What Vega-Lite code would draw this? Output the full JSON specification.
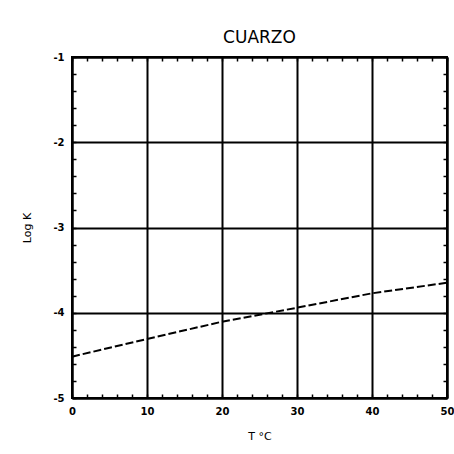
{
  "$schema": "https://vega.github.io/schema/vega-lite/v6.json",
  "width": 375,
  "height": 341,
  "autosize": {"type": "none"},
  "padding": {"left": 72, "top": 57, "right": 7, "bottom": 56},
  "background": "white",
  "title": {"text": "CUARZO", "fontSize": 17, "font": "DejaVu Sans", "fontWeight": "normal", "color": "black", "offset": 5},
  "config": {
    "view": {"stroke": "black", "strokeWidth": 2},
    "axis": {"labelFont": "DejaVu Sans", "titleFont": "DejaVu Sans", "labelColor": "black", "titleColor": "black", "labelFontWeight": "bold", "labelFontSize": 10, "titleFontWeight": "normal", "titleFontSize": 11}
  },
  "data": {"values": [
    {"T": 0, "logK": -4.515},
    {"T": 10, "logK": -4.308},
    {"T": 20, "logK": -4.105},
    {"T": 30, "logK": -3.941},
    {"T": 40, "logK": -3.772},
    {"T": 50, "logK": -3.648}
  ]},
  "resolve": {"axis": {"x": "independent", "y": "independent"}},
  "layer": [
    {
      "mark": {"type": "line", "color": "black", "strokeWidth": 2, "strokeDash": [8, 3]},
      "encoding": {
        "x": {"field": "T", "type": "quantitative", "scale": {"domain": [0, 50], "nice": false},
          "axis": {"orient": "bottom", "title": "T °C", "titlePadding": 14, "values": [0,2,4,6,8,10,12,14,16,18,20,22,24,26,28,30,32,34,36,38,40,42,44,46,48,50],
            "labelExpr": "datum.value % 10 === 0 ? '' + datum.value : ''",
            "grid": true, "gridColor": "black", "gridWidth": 2,
            "gridOpacity": {"condition": {"test": "datum.value % 10 === 0", "value": 1}, "value": 0},
            "domainColor": "black", "domainWidth": 2, "tickColor": "black", "tickWidth": 1.5, "tickSize": -4, "labelPadding": 12, "labelFlush": false}},
        "y": {"field": "logK", "type": "quantitative", "scale": {"domain": [-5, -1], "nice": false, "zero": false},
          "axis": {"orient": "left", "title": "Log K", "titlePadding": 20, "values": [-5,-4.8,-4.6,-4.4,-4.2,-4,-3.8,-3.6,-3.4,-3.2,-3,-2.8,-2.6,-2.4,-2.2,-2,-1.8,-1.6,-1.4,-1.2,-1],
            "labelExpr": "datum.value % 1 === 0 ? '' + datum.value : ''",
            "grid": true, "gridColor": "black", "gridWidth": 2,
            "gridOpacity": {"condition": {"test": "datum.value % 1 === 0", "value": 1}, "value": 0},
            "domainColor": "black", "domainWidth": 2, "tickColor": "black", "tickWidth": 1.5, "tickSize": -4, "labelPadding": 12}}
      }
    },
    {
      "mark": {"type": "line", "opacity": 0},
      "encoding": {
        "x": {"field": "T", "type": "quantitative",
          "axis": {"orient": "top", "title": null, "labels": false, "grid": false, "values": [0,2,4,6,8,10,12,14,16,18,20,22,24,26,28,30,32,34,36,38,40,42,44,46,48,50],
            "domainColor": "black", "domainWidth": 2, "tickColor": "black", "tickWidth": 1.5, "tickSize": -4}},
        "y": {"field": "logK", "type": "quantitative",
          "axis": {"orient": "right", "title": null, "labels": false, "grid": false, "values": [-5,-4.8,-4.6,-4.4,-4.2,-4,-3.8,-3.6,-3.4,-3.2,-3,-2.8,-2.6,-2.4,-2.2,-2,-1.8,-1.6,-1.4,-1.2,-1],
            "domainColor": "black", "domainWidth": 2, "tickColor": "black", "tickWidth": 1.5, "tickSize": -4}}
      }
    }
  ]
}
